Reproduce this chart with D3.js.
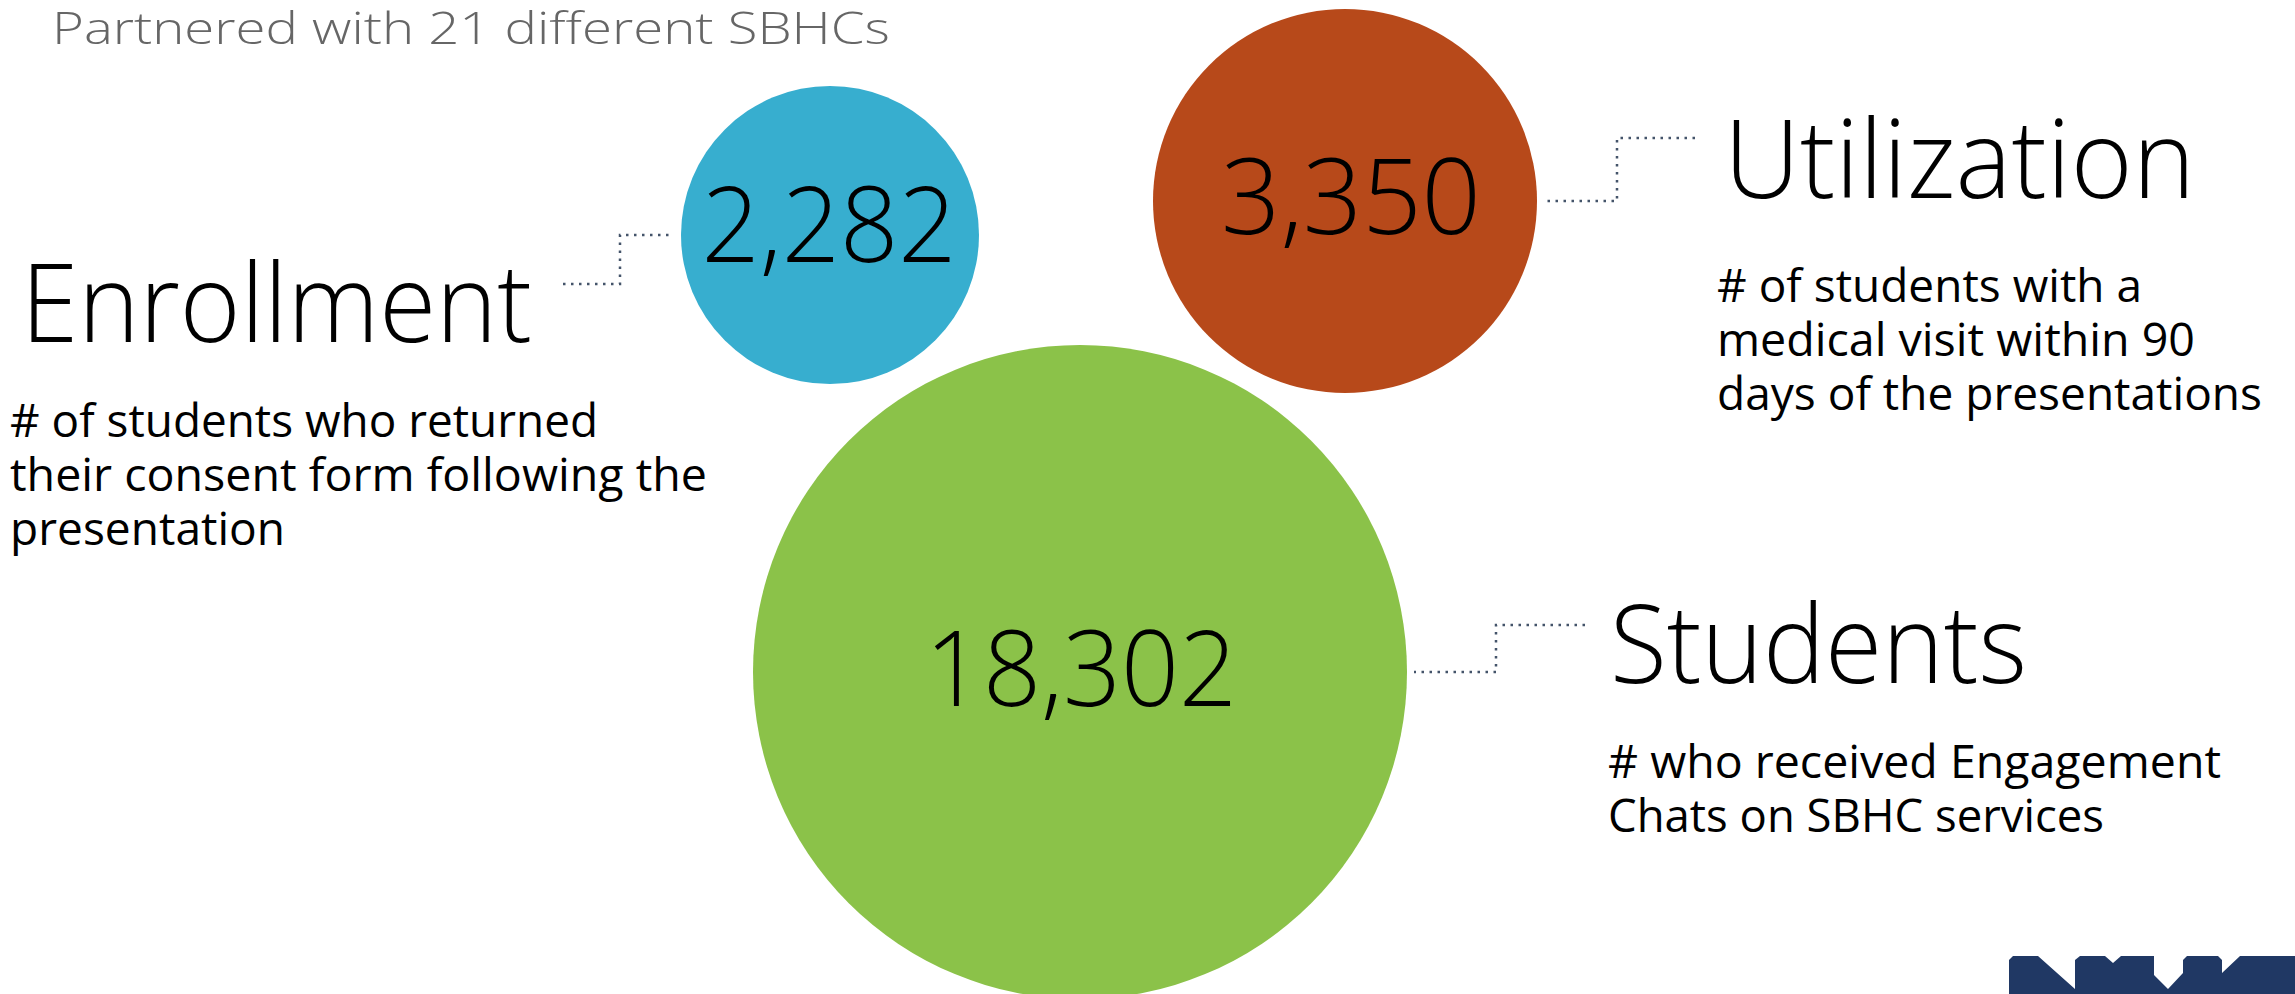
<!DOCTYPE html>
<html>
<head>
<meta charset="utf-8">
<script src="https://cdn.jsdelivr.net/npm/d3@7"></script>
<style>
  html, body { margin: 0; padding: 0; background: #ffffff; }
  svg { display: block; }
  text { font-family: "Open Sans", "Noto Sans", sans-serif; }
</style>
</head>
<body>
<div id="chart"></div>
<script>
// ---- Data ----
const subtitle = "Partnered with 21 different SBHCs";
const categories = ["Enrollment", "Utilization", "Students"];
const values = [2282, 3350, 18302];
const descriptions = [
  ["# of students who returned", "their consent form following the", "presentation"],
  ["# of students with a", "medical visit within 90", "days of the presentations"],
  ["# who received Engagement", "Chats on SBHC services"]
];
const colors = ["#37AECF", "#B7491A", "#8BC249"];

// ---- Layout (infographic placement) ----
const W = 2295, H = 994;
const circleX = [830, 1345, 1080];
const circleY = [235, 201, 672];
const circleR = [149, 192, 327];
const numberDX = [-1, 6, 1];
const numberDY = [27, 33, 34];
const numberWidth = [255, 260, 312];
const side = [-1, 1, 1];          // connector leaves circle on left (-1) or right (+1)
const elbowX = [620, 1617, 1496];
const labelLineY = [284, 138, 625];
const labelEndX = [563, 1695, 1585];
const titleX = [21, 1724, 1610];
const titleY = [342, 198, 683];
const titleWidth = [511, 471, 417];
const bodyX = [10, 1717, 1608];
const bodyY0 = [437, 302, 778];
const bodyStep = 54;
const bodyWidths = [[588, 697, 275], [425, 478, 545], [613, 496]];

const cx = d3.scaleOrdinal().domain(categories).range(circleX);
const cy = d3.scaleOrdinal().domain(categories).range(circleY);
const rr = d3.scaleOrdinal().domain(categories).range(circleR);
const col = d3.scaleOrdinal().domain(categories).range(colors);
const fmt = d3.format(",");

const rows = categories.map((c, i) => ({ c, i, v: values[i], desc: descriptions[i] }));

const svg = d3.select("#chart").append("svg")
  .attr("width", W).attr("height", H);

svg.append("rect").attr("width", W).attr("height", H).attr("fill", "#ffffff");

// subtitle
svg.append("text")
  .attr("x", 52).attr("y", 44)
  .attr("font-size", 45).attr("font-weight", 300)
  .attr("fill", "#666666")
  .attr("textLength", 838).attr("lengthAdjust", "spacingAndGlyphs")
  .text(subtitle);

// connectors
const line = d3.line();
svg.selectAll("path.conn").data(rows).join("path")
  .attr("class", "conn")
  .attr("d", d => {
    const sx = cx(d.c) + side[d.i] * (rr(d.c) + 7);
    const sy = cy(d.c);
    const ey = labelLineY[d.i];
    const ex = labelEndX[d.i];
    return line([[ex, ey], [elbowX[d.i], ey], [elbowX[d.i], sy], [sx, sy]]);
  })
  .attr("fill", "none")
  .attr("stroke", "#44546A")
  .attr("stroke-width", 2.5)
  .attr("stroke-dasharray", "2.5 5.5");

// circles
svg.selectAll("circle.bub").data(rows).join("circle")
  .attr("class", "bub")
  .attr("cx", d => cx(d.c))
  .attr("cy", d => cy(d.c))
  .attr("r", d => rr(d.c))
  .attr("fill", d => col(d.c));

// numbers
svg.selectAll("text.num").data(rows).join("text")
  .attr("class", "num")
  .attr("x", d => cx(d.c) + numberDX[d.i])
  .attr("y", d => cy(d.c) + numberDY[d.i])
  .attr("text-anchor", "middle")
  .attr("font-size", 106).attr("font-weight", 300)
  .attr("fill", "#000000")
  .attr("textLength", d => numberWidth[d.i]).attr("lengthAdjust", "spacingAndGlyphs")
  .text(d => fmt(d.v));

// titles
svg.selectAll("text.title").data(rows).join("text")
  .attr("class", "title")
  .attr("x", d => titleX[d.i])
  .attr("y", d => titleY[d.i])
  .attr("font-size", 108).attr("font-weight", 300)
  .attr("fill", "#000000")
  .attr("textLength", d => titleWidth[d.i]).attr("lengthAdjust", "spacingAndGlyphs")
  .text(d => d.c);

// descriptions: one text block per category, one tspan per line
const desc = svg.selectAll("text.desc").data(rows).join("text")
  .attr("class", "desc")
  .attr("x", d => bodyX[d.i])
  .attr("y", d => bodyY0[d.i])
  .attr("font-size", 45).attr("font-weight", 400)
  .attr("fill", "#000000");

desc.each(function(d) {
  d3.select(this).selectAll("tspan").data(d.desc.map((t, j) => ({ t, j, i: d.i }))).join("tspan")
    .attr("x", bodyX[d.i])
    .attr("y", e => bodyY0[e.i] + e.j * bodyStep)
    .attr("textLength", e => bodyWidths[e.i][e.j])
    .attr("lengthAdjust", "spacingAndGlyphs")
    .text(e => e.t);
});

// logo fragment bottom-right (decorative)
const logo = [
  [2009, 994], [2009, 960], [2013, 956], [2038, 956], [2075, 989], [2075, 960], [2080, 956],
  [2105, 956], [2113, 963], [2121, 956], [2154, 956], [2154, 975], [2168, 989], [2183, 973],
  [2183, 960], [2187, 956], [2218, 956], [2222, 960], [2222, 973], [2240, 956],
  [2295, 956], [2295, 994]
];
svg.append("path")
  .attr("d", d3.line()(logo) + "Z")
  .attr("fill", "#203864");
</script>
</body>
</html>
